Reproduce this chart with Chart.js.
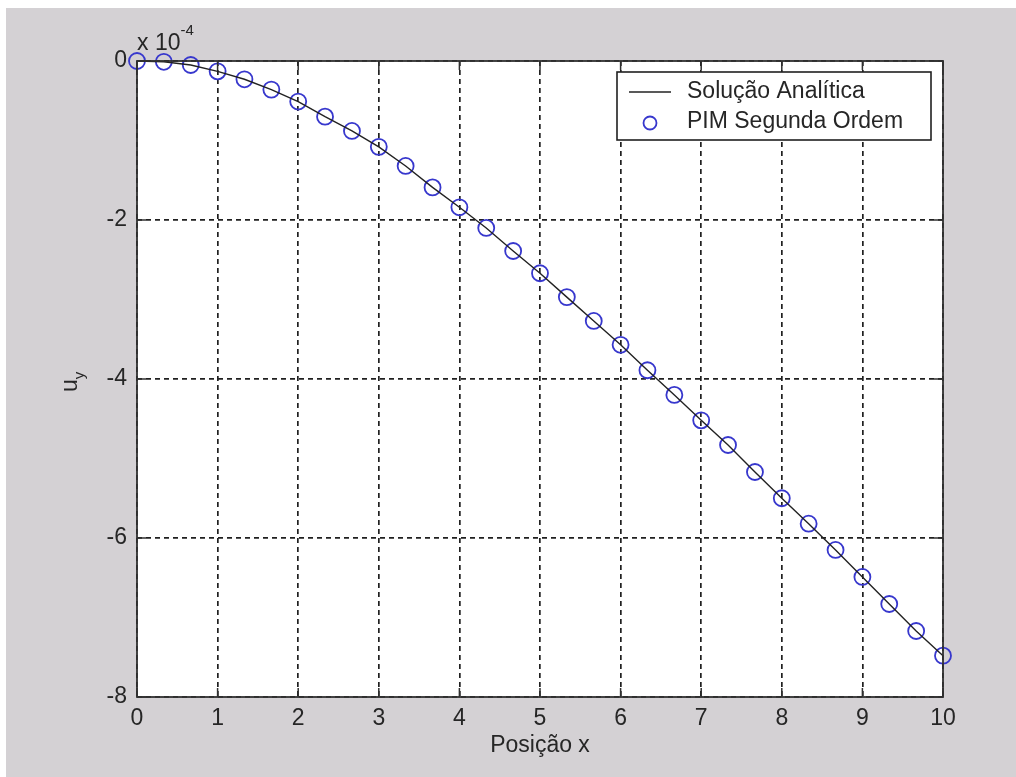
<!DOCTYPE html>
<html>
<head>
<meta charset="utf-8">
<script src="https://cdn.jsdelivr.net/npm/chart.js@4.4.1/dist/chart.umd.min.js"></script>
<style>
  html, body { margin: 0; padding: 0; background: #ffffff; }
  #c { display: block; }
</style>
</head>
<body>
<canvas id="c" width="1016" height="777"></canvas>
<script>
// ---- data (y values in units of 10^-4) ----
const positions = [0, 0.333, 0.667, 1, 1.333, 1.667, 2, 2.333, 2.667, 3, 3.333, 3.667, 4, 4.333, 4.667, 5,
                   5.333, 5.667, 6, 6.333, 6.667, 7, 7.333, 7.667, 8, 8.333, 8.667, 9, 9.333, 9.667, 10];
const analyticValues = [0, -0.01, -0.05, -0.13, -0.23, -0.36, -0.51, -0.70, -0.88, -1.08, -1.32, -1.59, -1.84, -2.10, -2.39, -2.67,
                        -2.97, -3.27, -3.57, -3.89, -4.20, -4.52, -4.83, -5.17, -5.50, -5.82, -6.15, -6.49, -6.83, -7.17, -7.48];
const pimValues = [0, -0.01, -0.05, -0.13, -0.23, -0.36, -0.51, -0.70, -0.88, -1.08, -1.32, -1.59, -1.84, -2.10, -2.39, -2.67,
                   -2.97, -3.27, -3.57, -3.89, -4.20, -4.52, -4.83, -5.17, -5.50, -5.82, -6.15, -6.49, -6.83, -7.17, -7.48];
const seriesNames = ['Solução Analítica', 'PIM Segunda Ordem'];
const xTickValues = [0, 1, 2, 3, 4, 5, 6, 7, 8, 9, 10];
const xTickLabels = ['0', '1', '2', '3', '4', '5', '6', '7', '8', '9', '10'];
const yTickValues = [0, -2, -4, -6, -8];
const yTickLabels = ['0', '-2', '-4', '-6', '-8'];
const xAxisTitle = 'Posição x';
const yAxisTitleMain = 'u';
const yAxisTitleSub = 'y';
const scaleFactorBase = 'x 10';
const scaleFactorExp = '-4';

// ---- styles ----
const FONT = '"Liberation Sans", Arial, sans-serif';
const TEXT = '#262626';
const FIG_BG = 'rgb(212,209,212)';
const MARK_BLUE = 'rgb(55,55,205)';

const toXY = (xs, ys) => xs.map((x, i) => ({ x: x, y: ys[i] }));

const framePlugin = {
  id: 'frame',
  beforeDraw(chart) {
    const ctx = chart.ctx, a = chart.chartArea;
    ctx.save();
    ctx.fillStyle = '#ffffff';
    ctx.fillRect(0, 0, chart.width, chart.height);
    ctx.fillStyle = FIG_BG;
    ctx.fillRect(6, 8, chart.width - 6, chart.height - 8);
    ctx.fillStyle = '#ffffff';
    ctx.fillRect(a.left, a.top, a.right - a.left, a.bottom - a.top);
    ctx.restore();
  },
  afterDatasetsDraw(chart) {
    const ctx = chart.ctx, a = chart.chartArea;
    const xs = chart.scales.x, ys = chart.scales.y;
    ctx.save();
    ctx.strokeStyle = '#303030';
    ctx.lineWidth = 1.8;
    ctx.setLineDash([]);
    ctx.strokeRect(a.left, a.top, a.right - a.left, a.bottom - a.top);
    const tl = 9;
    ctx.lineWidth = 1.5;
    ctx.beginPath();
    xTickValues.forEach(v => {
      const px = xs.getPixelForValue(v);
      ctx.moveTo(px, a.bottom); ctx.lineTo(px, a.bottom - tl);
      ctx.moveTo(px, a.top); ctx.lineTo(px, a.top + tl);
    });
    yTickValues.forEach(v => {
      const py = ys.getPixelForValue(v);
      ctx.moveTo(a.left, py); ctx.lineTo(a.left + tl, py);
      ctx.moveTo(a.right, py); ctx.lineTo(a.right - tl, py);
    });
    ctx.stroke();
    ctx.restore();
  },
  afterDraw(chart) {
    const ctx = chart.ctx, a = chart.chartArea;
    ctx.save();
    ctx.fillStyle = TEXT;
    ctx.font = '23px ' + FONT;
    ctx.textAlign = 'center';
    ctx.textBaseline = 'alphabetic';
    ctx.fillText(xAxisTitle, (a.left + a.right) / 2, 752);
    ctx.textAlign = 'left';
    ctx.fillText(scaleFactorBase, a.left, 50);
    const w = ctx.measureText(scaleFactorBase).width;
    ctx.font = '15px ' + FONT;
    ctx.fillText(scaleFactorExp, a.left + w, 35);
    ctx.save();
    ctx.translate(77, 392);
    ctx.rotate(-Math.PI / 2);
    ctx.font = '23px ' + FONT;
    ctx.textAlign = 'left';
    ctx.fillText(yAxisTitleMain, 0, 0);
    const uw = ctx.measureText(yAxisTitleMain).width;
    ctx.font = '15px ' + FONT;
    ctx.fillText(yAxisTitleSub, uw, 7);
    ctx.restore();
    // legend
    const bx = 617, by = 72, bw = 314, bh = 68;
    ctx.fillStyle = '#ffffff';
    ctx.fillRect(bx, by, bw, bh);
    ctx.strokeStyle = '#202020';
    ctx.lineWidth = 1.6;
    ctx.strokeRect(bx, by, bw, bh);
    const ds0 = chart.data.datasets[0], ds1 = chart.data.datasets[1];
    ctx.strokeStyle = ds0.borderColor;
    ctx.lineWidth = ds0.borderWidth;
    ctx.beginPath(); ctx.moveTo(629, 92); ctx.lineTo(671, 92); ctx.stroke();
    ctx.strokeStyle = ds1.pointBorderColor;
    ctx.lineWidth = ds1.pointBorderWidth;
    ctx.beginPath(); ctx.arc(650, 123, 6.5, 0, Math.PI * 2); ctx.stroke();
    ctx.fillStyle = TEXT;
    ctx.font = '23px ' + FONT;
    ctx.textAlign = 'left';
    ctx.textBaseline = 'middle';
    ctx.fillText(ds0.label, 687, 92);
    ctx.fillText(ds1.label, 687, 122);
    ctx.restore();
  }
};

new Chart(document.getElementById('c'), {
  type: 'scatter',
  data: {
    datasets: [
      {
        type: 'line',
        label: seriesNames[0],
        data: toXY(positions, analyticValues),
        borderColor: '#222222',
        borderWidth: 1.4,
        pointRadius: 0,
        fill: false,
        tension: 0,
        clip: false
      },
      {
        label: seriesNames[1],
        data: toXY(positions, pimValues),
        showLine: false,
        pointStyle: 'circle',
        pointRadius: 8,
        pointBorderWidth: 1.8,
        pointBorderColor: MARK_BLUE,
        pointBackgroundColor: 'rgba(0,0,0,0)',
        borderColor: MARK_BLUE,
        backgroundColor: 'rgba(0,0,0,0)',
        clip: false
      }
    ]
  },
  options: {
    responsive: false,
    animation: false,
    devicePixelRatio: 1,
    layout: { padding: { top: 61, right: 73, left: 0, bottom: 0 } },
    plugins: {
      legend: { display: false },
      tooltip: { enabled: false },
      title: { display: false }
    },
    scales: {
      x: {
        type: 'linear',
        min: 0, max: 10,
        afterFit(scale) { scale.height = 80; },
        afterBuildTicks(scale) { scale.ticks = xTickValues.map(v => ({ value: v })); },
        ticks: {
          padding: 8,
          color: TEXT,
          font: { family: FONT, size: 23 },
          maxRotation: 0,
          autoSkip: false,
          callback: (v) => xTickLabels[xTickValues.indexOf(v)]
        },
        grid: { color: '#202020', lineWidth: 1.7, drawTicks: false },
        border: { display: false, dash: [5, 4] }
      },
      y: {
        type: 'linear',
        min: -8, max: 0,
        afterFit(scale) { scale.width = 137; },
        afterBuildTicks(scale) { scale.ticks = yTickValues.map(v => ({ value: v })); },
        ticks: {
          padding: 10,
          color: TEXT,
          font: { family: FONT, size: 23 },
          autoSkip: false,
          callback: (v) => yTickLabels[yTickValues.indexOf(v)]
        },
        grid: { color: '#202020', lineWidth: 1.7, drawTicks: false },
        border: { display: false, dash: [5, 4] }
      }
    }
  },
  plugins: [framePlugin]
});
</script>
</body>
</html>
